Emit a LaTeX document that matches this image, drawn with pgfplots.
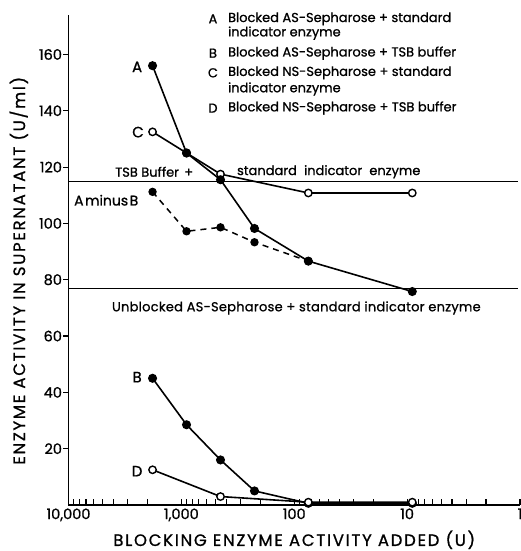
\documentclass[border=0pt]{standalone}
\usepackage{fontspec}
\setmainfont{Poppins}[FakeBold=0.9]
\usepackage{pgfplots}
\pgfplotsset{compat=1.18}

\begin{document}
\begin{tikzpicture}
\begin{axis}[
    scale only axis,
    width=451.5pt, height=490pt,
    xmode=log, x dir=reverse,
    xmin=1, xmax=10000,
    ymin=0, ymax=174,
    axis x line*=bottom, axis y line*=left,
    axis line style={line width=1.6pt},
    xtick={1,10,100,1000,10000},
    xticklabels={1,10,100,{1,000},{10,000}},
    minor xtick={2,3,4,5,6,7,8,9,20,30,40,50,60,70,80,90,200,300,400,500,600,700,800,900,2000,3000,4000,5000,6000,7000,8000,9000},
    ytick={20,40,60,80,100,120,140,160},
    tick align=inside,
    major tick length=6pt, minor tick length=6pt,
    tick style={black, line width=1.1pt},
    ytick style={xshift=-5pt},
    yticklabel style={xshift=-3pt},
    /pgf/number format/assume math mode=true,
    tick label style={font=\fontsize{14.5}{15}\selectfont},
    xlabel={BLOCKING ENZYME ACTIVITY ADDED (U)},
    ylabel={ENZYME ACTIVITY IN SUPERNATANT (U/ml)},
    label style={font=\fontsize{16.5}{17}\selectfont\addfontfeature{LetterSpace=10.5}},
    xlabel style={at={(axis description cs:0.5,-0.071)}, anchor=center},
    ylabel style={at={(axis description cs:-0.11,0.478)}, anchor=center},
    clip=false,
]
% reference lines
\addplot[line width=1.1pt] coordinates {(10000,114.9) (1.05,114.9)};
\addplot[line width=1.1pt] coordinates {(10000,77) (1.05,77)};

% C: blocked NS-Sepharose + standard indicator enzyme
\addplot[line width=1.6pt, mark=*, mark size=3.7pt, mark options={fill=white, line width=1.4pt}]
  coordinates {(1800,132.5) (900,125) (450,117.5) (75,110.8) (9,110.8)};
% A minus B
\addplot[line width=1.5pt, dash pattern=on 6pt off 5pt, mark=*, mark size=3.4pt, mark options={solid, fill=black}]
  coordinates {(1800,111.2) (900,97.2) (450,98.6) (225,93.3) (75,86.6)};
% A: blocked AS-Sepharose + standard indicator enzyme
\addplot[line width=1.6pt, mark=*, mark size=3.7pt, mark options={fill=black}]
  coordinates {(1800,156) (900,125) (450,115.5) (225,98.2) (75,86.6) (9,75.8)};
% B: blocked AS-Sepharose + TSB buffer
\addplot[line width=1.6pt, mark=*, mark size=3.7pt, mark options={fill=black}]
  coordinates {(1800,45) (900,28.5) (450,16) (225,5) (75,0.6) (9,0.6)};
% D: blocked NS-Sepharose + TSB buffer
\addplot[line width=1.6pt, mark=*, mark size=3.7pt, mark options={fill=white, line width=1.4pt}]
  coordinates {(1800,12.5) (450,3) (75,1) (9,1)};

% key
\begin{scope}[every node/.style={font=\fontsize{13}{13}\selectfont, inner sep=0pt}]
\node[anchor=center] at (axis description cs:0.320,0.992) {A};
\node[anchor=west] at (axis description cs:0.353,0.992) {Blocked AS-Sepharose + standard};
\node[anchor=west] at (axis description cs:0.353,0.963) {indicator enzyme};
\node[anchor=center] at (axis description cs:0.320,0.922) {B};
\node[anchor=west] at (axis description cs:0.353,0.922) {Blocked AS-Sepharose + TSB buffer};
\node[anchor=center] at (axis description cs:0.320,0.882) {C};
\node[anchor=west] at (axis description cs:0.353,0.882) {Blocked NS-Sepharose + standard};
\node[anchor=west] at (axis description cs:0.353,0.849) {indicator enzyme};
\node[anchor=center] at (axis description cs:0.320,0.810) {D};
\node[anchor=west] at (axis description cs:0.353,0.810) {Blocked NS-Sepharose + TSB buffer};

\node[anchor=west] at (axis description cs:0.103,0.680) {TSB Buffer\hspace{0.4em}+};
\node[anchor=west] at (axis description cs:0.373,0.680) {standard\hspace{0.55em}indicator\hspace{0.55em}enzyme};
\node[anchor=west] at (axis description cs:0.096,0.402) {\addfontfeature{LetterSpace=2}Unblocked AS-Sepharose + standard indicator enzyme};
\end{scope}

% curve labels
\begin{scope}[every node/.style={font=\fontsize{15}{15}\selectfont, inner sep=0pt}]
\node at (axis description cs:0.152,0.894) {A};
\node at (axis description cs:0.154,0.761) {C};
\node[anchor=east,font=\fontsize{14}{14}\selectfont] at (axis description cs:0.155,0.622) {A\hspace{1.5pt}minus\hspace{1.5pt}B};
\node at (axis description cs:0.152,0.261) {B};
\node at (axis description cs:0.152,0.069) {D};
\end{scope}
\end{axis}
\pgfresetboundingbox
\path (-68.5pt,-46pt) rectangle (451.5pt,505pt);
\end{tikzpicture}
\end{document}
